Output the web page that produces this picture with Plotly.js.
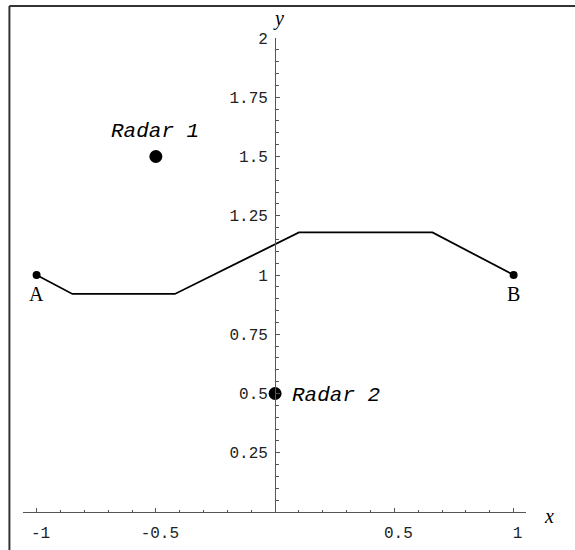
<!DOCTYPE html>
<html>
<head>
<meta charset="utf-8">
<script src="https://cdn.plot.ly/plotly-3.0.1.min.js"></script>
<style>html,body{margin:0;padding:0;background:#fff;}#chart{width:575px;height:550px;}</style>
</head>
<body>
<div id="chart"></div>
<script>
// Route path (A -> B)
const pathX = [-1, -0.85, -0.42, 0.1, 0.66, 1];
const pathY = [1, 0.92, 0.92, 1.18, 1.18, 1];
// End points
const endLabels = ["A", "B"];
const endX = [-1, 1];
const endY = [1, 1];
// Radars
const radarLabels = ["Radar 1", "Radar 2"];
const radarX = [-0.5, 0];
const radarY = [1.5, 0.5];
// Ticks
const xTickVals = [-1, -0.5, 0.5, 1];
const xTickText = ["-1", "-0.5", "0.5", "1"];
const yTickVals = [0.25, 0.5, 0.75, 1, 1.25, 1.5, 1.75, 2];
const yTickText = ["0.25", "0.5", "0.75", "1", "1.25", "1.5", "1.75", "2"];

const xRange = [-1.057, 1.052];
const yRange = [0, 2];
const yAxisPos = (0 - xRange[0]) / (xRange[1] - xRange[0]);

const mono = "Liberation Mono, Courier New, monospace";
const serif = "Liberation Serif, Times New Roman, serif";

const traces = [
  {x: pathX, y: pathY, mode: "lines", line: {color: "#000", width: 1.8}, hoverinfo: "skip", cliponaxis: false},
  {x: endX, y: endY, mode: "markers", marker: {color: "#000", size: 8}, cliponaxis: false},
  {x: radarX, y: radarY, mode: "markers", marker: {color: "#000", size: 13}, cliponaxis: false}
];

const annotations = [];
endLabels.forEach((t, i) => annotations.push({
  x: endX[i], y: endY[i], xref: "x", yref: "y", text: t, showarrow: false,
  yshift: -19, font: {family: serif, size: 20, color: "#000"}
}));
annotations.push({x: radarX[0], y: radarY[0], xref: "x", yref: "y", text: "<i>" + radarLabels[0] + "</i>", showarrow: false,
  xshift: -1, yshift: 25, font: {family: mono, size: 21, color: "#000"}});
annotations.push({x: radarX[1], y: radarY[1], xref: "x", yref: "y", text: "<i>" + radarLabels[1] + "</i>", showarrow: false,
  xanchor: "left", xshift: 15, yshift: -2, font: {family: mono, size: 21, color: "#000"}});
annotations.push({x: 0, y: 2, xref: "x", yref: "y", text: "<i>y</i>", showarrow: false, xshift: 3, yshift: 20,
  font: {family: serif, size: 20, color: "#000"}});
annotations.push({x: xRange[1], y: 0, xref: "x", yref: "y", text: "<i>x</i>", showarrow: false, xanchor: "left", xshift: 16, yshift: -4,
  font: {family: serif, size: 20, color: "#000"}});

const layout = {
  width: 575, height: 550,
  margin: {l: 23, r: 49, t: 38, b: 38},
  paper_bgcolor: "#fff", plot_bgcolor: "#fff",
  showlegend: false,
  xaxis: {
    range: xRange, showgrid: false, zeroline: false,
    showline: true, linecolor: "#555", linewidth: 1,
    ticks: "inside", ticklen: 4, tickwidth: 1, tickcolor: "#555",
    tickmode: "array", tickvals: xTickVals, ticktext: xTickText,
    tickfont: {family: mono, size: 16, color: "#222"},
    ticklabelstandoff: 6, ticklabelshift: 4,
    minor: {tickmode: "linear", tick0: 0, dtick: 0.1, ticks: "inside", ticklen: 2.5, tickcolor: "#555", showgrid: false},
    fixedrange: true
  },
  yaxis: {
    range: yRange, showgrid: false, zeroline: false,
    anchor: "free", position: yAxisPos, side: "left",
    showline: true, linecolor: "#555", linewidth: 1,
    ticks: "inside", ticklen: 4, tickwidth: 1, tickcolor: "#555",
    tickmode: "array", tickvals: yTickVals, ticktext: yTickText,
    tickfont: {family: mono, size: 16, color: "#222"},
    ticklabelstandoff: 4,
    minor: {tickmode: "linear", tick0: 0, dtick: 0.05, ticks: "inside", ticklen: 2.5, tickcolor: "#555", showgrid: false},
    fixedrange: true
  },
  shapes: [
    {type: "line", xref: "paper", yref: "paper", x0: -0.027, x1: -0.027, y0: -0.2, y1: 1.0675, line: {color: "#333", width: 2}},
    {type: "line", xref: "paper", yref: "paper", x0: -0.027, x1: 1.2, y0: 1.0675, y1: 1.0675, line: {color: "#333", width: 2}}
  ],
  annotations: annotations
};

Plotly.newPlot("chart", traces, layout, {staticPlot: true, displayModeBar: false});
</script>
</body>
</html>
